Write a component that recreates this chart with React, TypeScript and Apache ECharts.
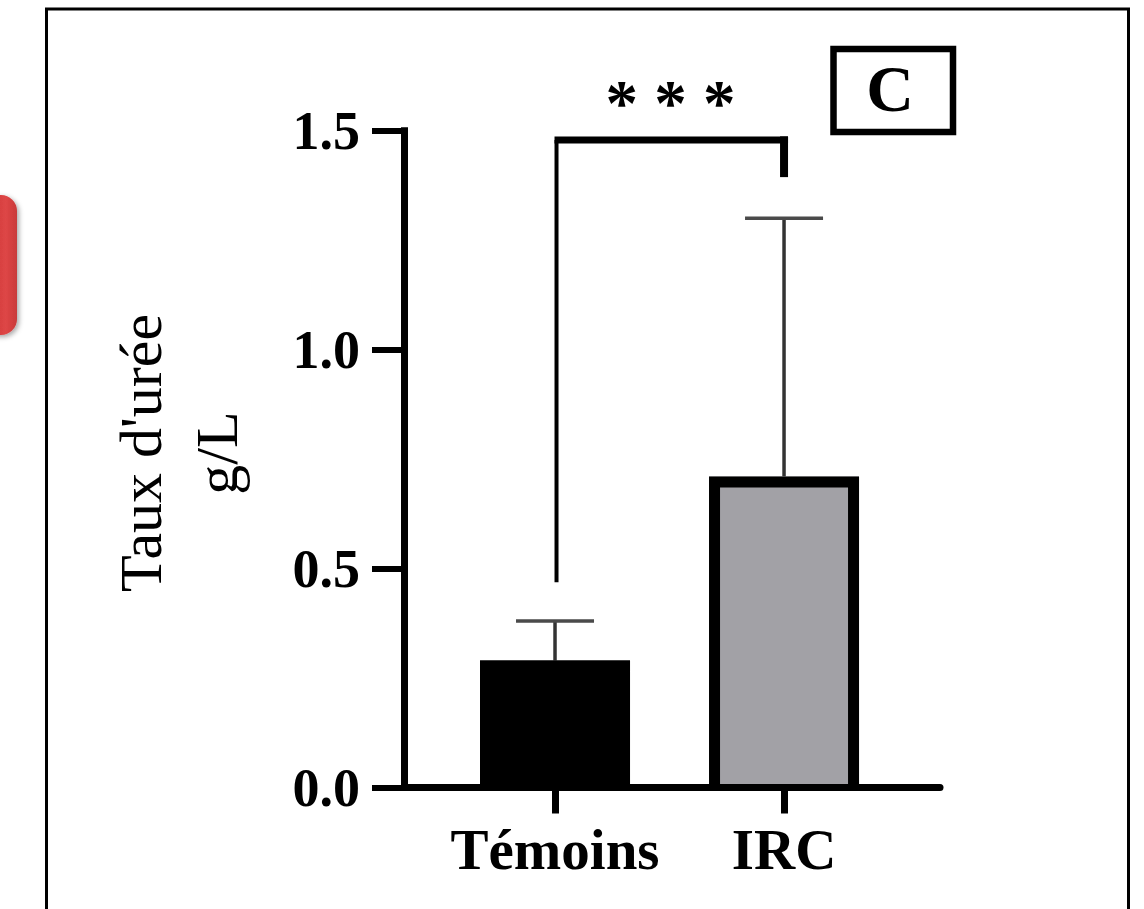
import React, { useEffect, useRef } from "react";
import * as echarts from "echarts";

// ---- data ----
const categories = ["Témoins", "IRC"];
const means = [0.29, 0.71];
const upperErrors = [0.38, 1.3];
const barColors = ["#000000", "#a2a1a6"];
const yTicks = [0, 0.5, 1.0, 1.5];
const bracketX = [1, 2];
const bracketEnds = [0.469, 1.394];
const bracketTop = 1.479;
const significance = "* * *";
const panelLetter = "C";
const yTitleLines = ["Taux d'urée", "g/L"];

const SERIF = "'Liberation Serif', 'Times New Roman', serif";
const BAR_W = 150;
const BORDER = 11;

export default function App() {
  const ref = useRef<HTMLDivElement>(null);

  useEffect(() => {
    if (!ref.current) return;
    const chart = echarts.init(ref.current, undefined, { renderer: "svg" });
    const xPos = categories.map((_, i) => i + 1);

    const option: any = {
      animation: false,
      backgroundColor: "#ffffff",
      grid: {
        left: 404,
        right: 204,
        top: 130.7,
        bottom: 121.5,
        containLabel: false,
        outerBoundsMode: "none",
      },
      xAxis: {
        type: "value",
        z: 5,
        min: 0.3406,
        max: 2.681,
        axisLine: { show: true, onZero: false, lineStyle: { color: "#000", width: 7 } },
        axisTick: {
          show: true,
          customValues: xPos,
          length: 26,
          lineStyle: { color: "#000", width: 7 },
        },
        axisLabel: {
          customValues: xPos,
          formatter: (v: number) => categories[Math.round(v) - 1] ?? "",
          margin: 33,
          color: "#000",
          fontFamily: SERIF,
          fontWeight: "bold",
          fontSize: 57,
        },
        splitLine: { show: false },
      },
      yAxis: {
        type: "value",
        z: 5,
        min: yTicks[0],
        max: yTicks[yTicks.length - 1],
        interval: 0.5,
        axisLine: { show: true, lineStyle: { color: "#000", width: 7, cap: "square" } },
        axisTick: { show: true, length: 32, lineStyle: { color: "#000", width: 6 } },
        axisLabel: {
          margin: 44,
          showMinLabel: true,
          showMaxLabel: true,
          formatter: (v: number) => v.toFixed(1),
          color: "#000",
          fontFamily: SERIF,
          fontWeight: "bold",
          fontSize: 54,
        },
        splitLine: { show: false },
      },
      series: [
        {
          type: "custom",
          name: "errors",
          clip: false,
          z: 1,
          data: categories.map((_, i) => [i + 1, means[i], upperErrors[i]]),
          encode: { x: 0, y: [1, 2] },
          renderItem: (params: any, api: any) => {
            const x = api.value(0);
            const p0 = api.coord([x, api.value(1)]);
            const p1 = api.coord([x, api.value(2)]);
            const hw = 39;
            return {
              type: "group",
              children: [
                {
                  type: "line",
                  shape: { x1: p0[0], y1: p0[1], x2: p1[0], y2: p1[1] },
                  style: { stroke: "#333333", lineWidth: 3.5 },
                },
                {
                  type: "line",
                  shape: { x1: p1[0] - hw, y1: p1[1], x2: p1[0] + hw, y2: p1[1] },
                  style: { stroke: "#4a4a4a", lineWidth: 3.5 },
                },
              ],
            };
          },
        },
        {
          type: "bar",
          name: "means",
          z: 2,
          barWidth: BAR_W,
          data: means.map((m, i) => ({
            value: [i + 1, m],
            itemStyle: { color: barColors[i] },
          })),
          itemStyle: { borderWidth: 0 },
        },
        {
          type: "custom",
          name: "outline",
          clip: false,
          z: 3,
          data: categories.map((_, i) => [i + 1, means[i]]),
          encode: { x: 0, y: 1 },
          renderItem: (params: any, api: any) => {
            const x = api.value(0);
            const pt = api.coord([x, api.value(1)]);
            const pb = api.coord([x, 0]);
            const h = BAR_W / 2 - BORDER / 2;
            const top = pt[1] + BORDER / 2;
            return {
              type: "polyline",
              shape: {
                points: [
                  [pt[0] - h, pb[1]],
                  [pt[0] - h, top],
                  [pt[0] + h, top],
                  [pt[0] + h, pb[1]],
                ],
              },
              style: { stroke: "#000", lineWidth: BORDER, fill: "none", lineJoin: "miter" },
            };
          },
        },
        {
          type: "custom",
          name: "bracket",
          clip: false,
          z: 3,
          data: [[bracketX[0], bracketEnds[0], bracketX[1], bracketEnds[1], bracketTop]],
          encode: { x: [0, 2], y: [1, 3, 4] },
          renderItem: (params: any, api: any) => {
            const pl = api.coord([api.value(0), api.value(1)]);
            const pr = api.coord([api.value(2), api.value(3)]);
            const tl = api.coord([api.value(0), api.value(4)]);
            const tr = api.coord([api.value(2), api.value(4)]);
            return {
              type: "group",
              children: [
                {
                  type: "line",
                  shape: { x1: tl[0] + 1.5, y1: tl[1], x2: pl[0] + 1.5, y2: pl[1] },
                  style: { stroke: "#000", lineWidth: 4 },
                },
                {
                  type: "line",
                  shape: { x1: tl[0] - 0.5, y1: tl[1], x2: tr[0] + 4, y2: tr[1] },
                  style: { stroke: "#000", lineWidth: 7 },
                },
                {
                  type: "line",
                  shape: { x1: tr[0], y1: tr[1] - 3.5, x2: pr[0], y2: pr[1] },
                  style: { stroke: "#000", lineWidth: 8 },
                },
                {
                  type: "text",
                  x: (tl[0] + tr[0]) / 2 + 1,
                  y: tl[1] - 37,
                  style: {
                    text: significance,
                    fill: "#000",
                    font: `bold 65px ${SERIF}`,
                    align: "center",
                    verticalAlign: "middle",
                  },
                },
              ],
            };
          },
        },
      ],
      graphic: [
        {
          type: "rect",
          shape: { x: -20, y: 195, width: 37, height: 140, r: 16 },
          style: {
            fill: new echarts.graphic.LinearGradient(0, 0, 1, 0, [
              { offset: 0, color: "#c43232" },
              { offset: 0.7, color: "#de4646" },
              { offset: 1, color: "#c93a3a" },
            ]),
            shadowBlur: 5,
            shadowOffsetX: 2,
            shadowOffsetY: 2,
            shadowColor: "rgba(0,0,0,0.35)",
          },
        },
        {
          type: "rect",
          shape: { x: 46.5, y: 9, width: 1082, height: 960 },
          style: { fill: "none", stroke: "#000", lineWidth: 3 },
          silent: true,
        },
        {
          type: "rect",
          shape: { x: 833.5, y: 49, width: 119.5, height: 83 },
          style: { fill: "#fff", stroke: "#000", lineWidth: 6.5 },
        },
        {
          type: "text",
          x: 890,
          y: 88,
          style: {
            text: panelLetter,
            fill: "#000",
            font: `bold 66px ${SERIF}`,
            align: "center",
            verticalAlign: "middle",
          },
        },
        {
          type: "text",
          x: 179,
          y: 453,
          rotation: Math.PI / 2,
          style: {
            text: yTitleLines.join("\n"),
            fill: "#000",
            font: `60px ${SERIF}`,
            lineHeight: 76,
            align: "center",
            verticalAlign: "middle",
          },
        },
      ],
    };

    chart.setOption(option);
    return () => chart.dispose();
  }, []);

  return (
    <div
      ref={ref}
      style={{ position: "absolute", left: 0, top: 0, width: 1144, height: 909 }}
    />
  );
}
